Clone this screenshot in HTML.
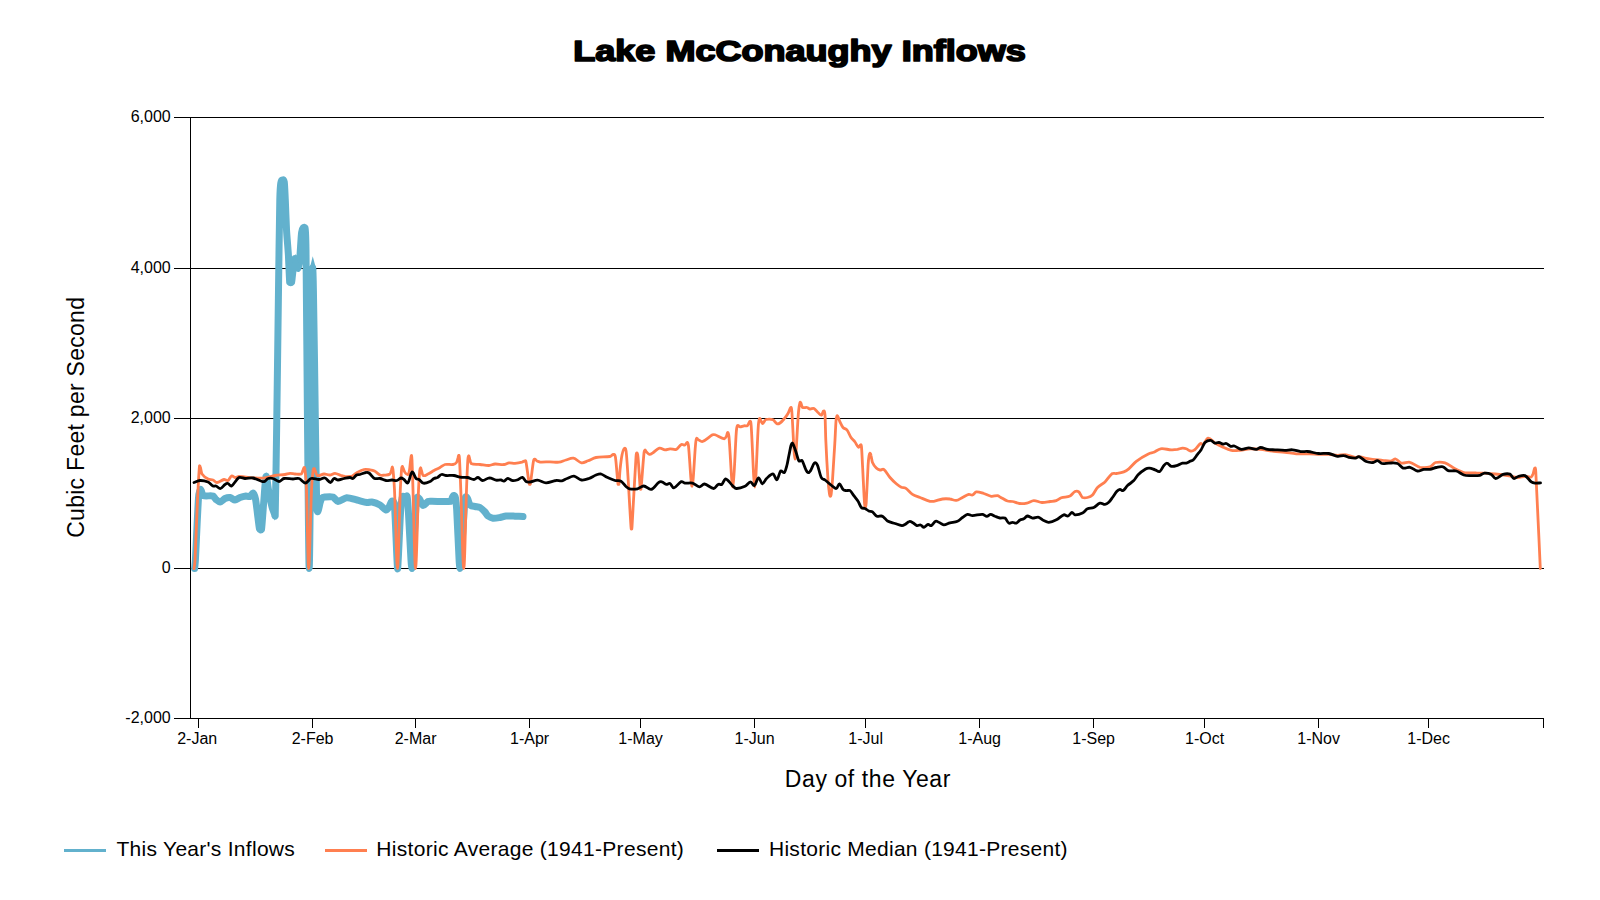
<!DOCTYPE html>
<html><head><meta charset="utf-8"><title>Lake McConaughy Inflows</title>
<style>
html,body{margin:0;padding:0;background:#fff;}
body{width:1600px;height:900px;overflow:hidden;font-family:"Liberation Sans",sans-serif;}
svg{display:block;}
text{font-family:"Liberation Sans",sans-serif;fill:#000;}
.ax{font-size:16px;}
.lg{font-size:21px;}
.at{font-size:23px;}
</style></head><body>
<svg width="1600" height="900" viewBox="0 0 1600 900">
<rect x="0" y="0" width="1600" height="900" fill="#fff"/>
<text id="title" x="799.5" y="60.6" text-anchor="middle" font-size="29.5" font-weight="bold" stroke="#000" stroke-width="1.7" stroke-linejoin="round" textLength="452.5" lengthAdjust="spacingAndGlyphs">Lake McConaughy Inflows</text>
<g shape-rendering="crispEdges" stroke="#000" stroke-width="1">
<line x1="174" y1="117.5" x2="1544" y2="117.5"/>
<line x1="174" y1="268.5" x2="1544" y2="268.5"/>
<line x1="174" y1="418.5" x2="1544" y2="418.5"/>
<line x1="174" y1="568.5" x2="1544" y2="568.5"/>
<line x1="174" y1="718.5" x2="1544" y2="718.5"/>
<line x1="190.5" y1="117" x2="190.5" y2="719"/>
<line x1="198.5" y1="718" x2="198.5" y2="728"/>
<line x1="312.5" y1="718" x2="312.5" y2="728"/>
<line x1="415.5" y1="718" x2="415.5" y2="728"/>
<line x1="529.5" y1="718" x2="529.5" y2="728"/>
<line x1="640.5" y1="718" x2="640.5" y2="728"/>
<line x1="754.5" y1="718" x2="754.5" y2="728"/>
<line x1="865.5" y1="718" x2="865.5" y2="728"/>
<line x1="979.5" y1="718" x2="979.5" y2="728"/>
<line x1="1093.5" y1="718" x2="1093.5" y2="728"/>
<line x1="1204.5" y1="718" x2="1204.5" y2="728"/>
<line x1="1318.5" y1="718" x2="1318.5" y2="728"/>
<line x1="1428.5" y1="718" x2="1428.5" y2="728"/>
<line x1="1543.5" y1="718" x2="1543.5" y2="728"/>
</g>
<text class="ax" x="170.7" y="121.9" text-anchor="end">6,000</text>
<text class="ax" x="170.7" y="272.9" text-anchor="end">4,000</text>
<text class="ax" x="170.7" y="422.9" text-anchor="end">2,000</text>
<text class="ax" x="170.7" y="572.9" text-anchor="end">0</text>
<text class="ax" x="170.7" y="722.9" text-anchor="end">-2,000</text>
<text class="ax" x="197.2" y="743.7" text-anchor="middle">2-Jan</text>
<text class="ax" x="312.6" y="743.7" text-anchor="middle">2-Feb</text>
<text class="ax" x="415.6" y="743.7" text-anchor="middle">2-Mar</text>
<text class="ax" x="529.6" y="743.7" text-anchor="middle">1-Apr</text>
<text class="ax" x="640.6" y="743.7" text-anchor="middle">1-May</text>
<text class="ax" x="754.6" y="743.7" text-anchor="middle">1-Jun</text>
<text class="ax" x="865.6" y="743.7" text-anchor="middle">1-Jul</text>
<text class="ax" x="979.6" y="743.7" text-anchor="middle">1-Aug</text>
<text class="ax" x="1093.6" y="743.7" text-anchor="middle">1-Sep</text>
<text class="ax" x="1204.6" y="743.7" text-anchor="middle">1-Oct</text>
<text class="ax" x="1318.6" y="743.7" text-anchor="middle">1-Nov</text>
<text class="ax" x="1428.6" y="743.7" text-anchor="middle">1-Dec</text>
<text class="at" x="784.8" y="786.7" textLength="165.6" lengthAdjust="spacing">Day of the Year</text>
<text class="at" transform="translate(83.7,537.8) rotate(-90)" textLength="240.8" lengthAdjust="spacing">Cubic Feet per Second</text>
<g fill="none" stroke-linejoin="round" stroke-linecap="round">
<path d="M194.6,568.5 C194.8,566.2 195.2,563.9 195.4,560.0 C196.2,545.1 197.7,509.4 198.5,498.0 C199.0,490.6 200.0,489.8 200.5,489.5 C201.2,489.1 202.3,495.2 203.0,495.5 C205.7,496.7 210.3,495.2 213.0,496.0 C213.8,496.2 215.2,498.8 216.0,499.5 C217.1,500.4 218.9,502.1 220.0,502.0 C221.3,501.9 223.7,499.1 225.0,498.5 C226.3,497.9 228.7,497.3 230.0,497.5 C231.3,497.7 233.7,500.0 235.0,500.0 C236.3,500.0 238.7,498.0 240.0,497.5 C241.6,496.9 244.4,496.2 246.0,496.0 C247.1,495.9 248.9,497.0 250.0,496.5 C250.8,496.2 252.2,492.6 253.0,493.0 C253.7,493.3 254.8,495.7 255.5,499.0 C256.2,502.3 257.3,513.0 258.0,518.0 C258.4,521.0 259.1,527.7 259.5,529.0 C260.0,530.2 261.0,530.2 261.5,529.5 C262.0,526.3 263.0,511.3 263.5,505.0 C264.2,497.1 265.3,478.5 266.0,476.5 C266.7,474.5 267.8,486.6 268.5,490.0 C269.4,494.7 271.1,503.3 272.0,507.0 C272.7,509.7 273.8,512.1 274.5,514.0 C274.7,514.5 275.0,516.9 275.2,516.0 C275.6,499.8 276.3,452.4 276.7,425.0 C277.2,392.1 278.0,324.8 278.5,290.0 C278.8,264.8 279.5,216.1 279.8,200.0 C280.1,187.6 280.5,185.0 280.8,183.0 C281.3,179.6 282.0,180.1 282.5,180.0 C283.0,179.9 283.8,179.1 284.3,182.0 C284.6,183.9 285.0,194.2 285.3,200.0 C285.6,206.9 286.2,223.8 286.5,229.5 C287.0,238.5 287.9,246.6 288.4,255.0 C288.7,260.7 289.4,279.4 289.7,282.3 C290.2,282.9 291.1,282.9 291.6,282.2 C291.9,281.4 292.3,276.1 292.6,274.0 C293.1,269.9 294.0,261.2 294.5,259.0 C294.9,258.3 295.6,258.5 296.0,259.5 C296.6,261.0 297.6,268.6 298.2,268.4 C298.6,268.2 299.4,262.5 299.8,258.0 C300.3,252.9 301.1,235.3 301.6,232.5 C302.5,227.2 304.1,226.5 305.0,227.8 C305.3,228.9 305.7,229.0 306.0,250.0 C306.4,281.6 307.1,385.2 307.5,425.0 C308.0,470.1 308.7,568.5 309.2,568.5 C309.7,568.5 310.5,467.4 311.0,425.0 C311.4,387.4 312.2,292.0 312.6,268.5 C312.8,264.7 313.2,277.3 313.4,290.0 C314.0,319.1 314.9,390.6 315.4,425.0 C315.7,447.9 316.4,493.5 316.7,505.0 C317.0,513.1 317.7,511.7 318.0,511.5 C318.5,511.2 319.5,504.8 320.0,503.0 C320.5,501.2 321.5,498.6 322.0,498.0 C322.8,497.0 324.2,497.1 325.0,497.0 C327.1,496.8 330.9,496.4 333.0,497.0 C334.3,497.5 336.7,501.4 338.0,501.5 C340.3,501.6 344.4,497.9 346.7,497.7 C349.4,497.5 354.3,499.4 357.0,500.0 C359.7,500.6 364.3,502.1 367.0,502.5 C368.3,502.7 370.7,501.7 372.0,502.0 C374.1,502.4 377.9,503.8 380.0,505.0 C381.6,505.9 384.4,509.6 386.0,510.0 C386.8,510.2 388.2,508.2 389.0,507.0 C389.7,506.0 390.8,502.0 391.5,501.5 C392.2,500.9 393.6,500.7 394.3,503.0 C395.2,512.5 396.6,556.0 397.5,568.5 C397.7,570.4 398.0,563.4 398.2,560.0 C398.9,547.8 400.0,519.8 400.7,510.0 C401.2,502.9 402.0,497.8 402.5,496.5 C403.1,495.6 404.2,498.6 404.8,498.5 C405.4,498.4 406.4,495.0 407.0,496.0 C407.3,497.1 408.0,504.5 408.3,510.0 C409.0,521.5 410.3,548.6 411.0,560.0 C411.3,564.2 411.7,568.5 412.0,568.5 C412.3,568.5 412.7,564.2 413.0,560.0 C413.8,547.3 415.2,517.5 416.0,505.0 C416.3,500.8 416.7,498.0 417.0,497.5 C417.7,496.7 418.8,498.1 419.5,499.0 C420.4,500.2 422.1,505.2 423.0,505.5 C424.3,505.9 426.7,502.1 428.0,501.5 C429.1,501.0 430.9,501.3 432.0,501.3 C437.1,501.3 445.9,501.9 451.0,501.3 C451.4,501.2 452.1,497.8 452.5,497.0 C452.9,496.2 453.6,495.4 454.0,495.5 C454.4,495.6 455.1,495.9 455.5,498.0 C455.8,499.7 456.4,504.5 456.7,510.0 C457.3,521.0 458.5,548.7 459.1,560.0 C459.3,564.3 459.8,568.5 460.0,568.5 C460.3,568.5 460.7,563.8 461.0,560.0 C461.9,546.8 463.6,518.1 464.5,505.0 C464.8,501.3 465.2,497.6 465.5,497.0 C466.0,496.2 467.0,497.6 467.5,498.5 C468.2,499.7 469.3,504.3 470.0,505.0 C471.3,506.4 473.7,506.2 475.0,506.5 C476.3,506.8 478.7,506.8 480.0,507.5 C481.3,508.2 483.7,510.6 485.0,512.0 C485.8,512.9 487.2,515.4 488.0,516.0 C489.3,517.0 491.7,518.0 493.0,518.2 C494.9,518.4 498.1,517.8 500.0,517.5 C501.6,517.2 504.4,516.1 506.0,516.0 C508.4,515.8 512.6,516.1 515.0,516.2 C517.1,516.3 520.9,516.4 523.0,516.5" stroke="#62b1cd" stroke-width="7"/>
<path d="M309.3,270 L312.75,256.2 L316.4,270 Z M271.6,509 L274.4,520.8 L277.6,509 Z M292.6,263 L295.8,253.8 L298.6,263 Z M263.6,480 L266.1,472 L268.6,480 Z" fill="#62b1cd" stroke="none"/>
<path d="M194.0,568.5 C194.3,565.7 194.7,566.5 195.0,560.0 C195.8,543.7 196.7,517.4 197.5,500.0 C198.2,486.1 198.8,473.1 199.5,466.0 C199.8,465.1 200.2,466.9 200.5,468.0 C201.0,469.6 201.5,473.3 202.0,474.0 C204.0,476.9 206.0,477.9 208.0,479.0 C209.7,479.9 211.3,479.4 213.0,480.0 C214.3,480.5 215.7,482.6 217.0,482.5 C219.3,482.4 221.7,479.9 224.0,479.5 C225.3,479.3 226.7,481.1 228.0,480.5 C229.2,480.0 230.3,476.5 231.5,476.0 C232.7,475.5 233.8,477.4 235.0,477.5 C236.3,477.6 237.7,476.5 239.0,476.5 C244.3,476.6 249.7,477.7 255.0,478.0 C258.3,478.2 261.7,478.4 265.0,478.0 C268.3,477.6 271.7,476.1 275.0,475.5 C278.3,474.9 281.7,475.0 285.0,474.5 C286.7,474.3 288.3,473.4 290.0,473.3 C291.7,473.2 293.3,473.9 295.0,474.0 C297.2,474.1 299.3,474.6 301.5,474.0 C302.0,473.8 302.5,471.3 303.0,470.0 C303.3,469.1 303.7,467.5 304.0,467.5 C304.3,467.5 304.7,467.0 305.0,470.0 C305.5,474.5 306.0,476.3 306.5,490.0 C307.2,509.2 307.9,568.5 308.6,568.5 C309.6,568.5 310.5,511.4 311.5,490.0 C312.0,478.9 312.5,475.3 313.0,471.0 C313.3,468.1 313.7,468.7 314.0,468.5 C314.3,468.3 314.7,469.2 315.0,470.0 C315.7,471.6 316.3,475.2 317.0,475.5 C319.3,476.3 321.7,474.1 324.0,474.0 C326.0,473.9 328.0,475.1 330.0,475.0 C331.7,474.9 333.3,473.2 335.0,473.3 C337.0,473.4 339.0,474.9 341.0,475.5 C342.3,475.9 343.7,476.4 345.0,476.5 C347.3,476.6 349.7,476.7 352.0,476.0 C353.5,475.5 355.0,473.8 356.5,473.0 C359.0,471.6 361.5,470.1 364.0,469.5 C366.0,469.0 368.0,469.5 370.0,469.8 C371.5,470.0 373.0,470.2 374.5,471.0 C376.3,472.0 378.2,474.2 380.0,475.0 C381.3,475.6 382.7,475.3 384.0,475.2 C386.0,475.0 388.0,475.4 390.0,474.0 C390.5,473.7 391.0,471.6 391.5,470.0 C391.7,469.3 392.0,467.0 392.2,467.0 C392.5,467.0 392.7,467.3 393.0,470.0 C393.5,475.0 394.0,479.1 394.5,490.0 C395.5,511.9 396.5,568.5 397.5,568.5 C398.4,568.5 399.4,513.0 400.3,490.0 C400.7,480.2 401.1,474.9 401.5,470.0 C401.7,467.1 402.0,466.8 402.2,466.5 C402.5,466.1 402.7,467.4 403.0,468.0 C403.7,469.4 404.3,471.6 405.0,472.5 C406.0,473.8 407.0,475.1 408.0,474.5 C408.5,474.2 409.0,472.9 409.5,470.0 C410.1,466.7 410.6,458.3 411.2,456.0 C411.5,454.9 411.7,455.0 412.0,460.0 C412.3,466.3 412.7,479.7 413.0,490.0 C413.8,515.8 414.7,568.5 415.5,568.5 C416.5,568.5 417.5,513.2 418.5,490.0 C418.9,480.7 419.3,475.4 419.7,471.0 C420.0,468.0 420.2,468.0 420.5,467.8 C420.8,467.6 421.0,469.2 421.3,470.0 C421.9,471.7 422.4,475.2 423.0,475.5 C424.7,476.3 426.3,474.8 428.0,474.0 C430.0,473.1 432.0,471.6 434.0,470.5 C436.0,469.4 438.0,468.6 440.0,467.5 C441.7,466.6 443.3,464.9 445.0,464.5 C447.7,463.9 450.3,465.0 453.0,464.5 C454.2,464.3 455.3,464.0 456.5,462.5 C457.0,461.9 457.5,459.6 458.0,458.0 C458.2,457.3 458.5,455.3 458.7,455.5 C459.0,455.7 459.2,454.6 459.5,459.0 C459.9,466.1 460.4,479.0 460.8,490.0 C461.8,515.5 462.8,568.5 463.8,568.5 C464.7,568.5 465.6,514.4 466.5,490.0 C466.9,478.2 467.4,466.7 467.8,460.0 C468.1,455.3 468.4,456.0 468.7,455.8 C469.0,455.6 469.4,457.9 469.7,459.0 C470.1,460.5 470.6,463.3 471.0,463.5 C474.0,465.1 477.0,464.2 480.0,464.5 C483.0,464.8 486.0,465.6 489.0,465.5 C491.0,465.4 493.0,464.1 495.0,464.0 C498.0,463.8 501.0,464.8 504.0,464.5 C505.7,464.4 507.3,463.0 509.0,462.8 C511.0,462.6 513.0,463.4 515.0,463.3 C517.3,463.2 519.7,462.8 522.0,462.2 C523.0,461.9 524.0,460.9 525.0,460.8 C525.3,460.8 525.7,460.2 526.0,462.0 C527.1,467.9 528.2,478.4 529.3,484.0 C529.6,484.6 530.0,484.6 530.3,484.0 C531.4,478.2 532.4,466.9 533.5,461.0 C533.9,458.6 534.4,459.2 534.8,459.2 C535.5,459.2 536.3,460.6 537.0,461.0 C538.0,461.5 539.0,461.9 540.0,462.0 C543.3,462.2 546.7,461.8 550.0,461.8 C553.0,461.8 556.0,462.5 559.0,462.2 C561.3,461.9 563.7,460.6 566.0,460.0 C568.5,459.3 571.0,457.7 573.5,458.2 C576.2,458.7 578.8,462.3 581.5,462.8 C583.7,463.2 585.8,461.6 588.0,460.8 C590.7,459.8 593.3,458.0 596.0,457.5 C600.7,456.6 605.3,457.3 610.0,456.5 C611.2,456.3 612.3,454.3 613.5,454.5 C614.2,454.6 614.8,453.4 615.5,457.5 C616.3,463.0 617.2,477.7 618.0,484.0 C618.3,484.6 618.7,484.6 619.0,484.0 C619.3,481.7 619.7,473.2 620.0,470.0 C620.7,463.6 621.3,458.4 622.0,455.0 C622.8,451.1 623.5,448.3 624.3,448.3 C625.0,448.3 625.8,446.7 626.5,455.0 C628.0,472.6 629.5,504.8 631.0,527.0 C631.2,529.5 631.3,529.0 631.5,529.0 C631.7,529.0 631.8,529.7 632.0,527.0 C633.3,505.7 634.7,476.7 636.0,457.0 C636.3,452.1 636.7,453.0 637.0,453.0 C637.3,453.0 637.7,453.4 638.0,457.0 C638.8,465.4 639.5,480.8 640.3,489.0 C640.5,489.6 640.8,489.6 641.0,489.0 C642.0,479.3 643.0,462.8 644.0,453.0 C644.3,449.8 644.7,450.1 645.0,450.0 C645.5,449.8 646.0,451.5 646.5,452.0 C647.5,453.0 648.4,454.2 649.4,454.4 C650.4,454.6 651.5,453.8 652.5,453.1 C654.8,451.7 657.1,448.7 659.4,448.1 C661.3,447.6 663.1,449.7 665.0,449.8 C666.7,449.9 668.3,448.9 670.0,448.8 C672.1,448.7 674.2,450.1 676.3,449.4 C678.0,448.8 679.6,445.2 681.3,444.4 C682.5,443.8 683.8,445.4 685.0,445.0 C685.8,444.7 686.5,442.1 687.3,442.3 C687.7,442.4 688.1,442.3 688.5,446.0 C689.7,457.0 690.9,486.5 692.1,486.3 C693.2,486.1 694.4,457.3 695.5,445.0 C695.8,441.4 696.2,439.2 696.5,438.5 C697.0,437.8 697.5,439.2 698.0,439.5 C699.5,440.2 701.0,442.0 702.5,441.5 C705.8,440.4 709.2,436.6 712.5,434.8 C713.3,434.4 714.2,434.5 715.0,434.8 C718.1,435.9 721.3,438.5 724.4,438.8 C725.1,438.9 725.8,437.3 726.5,436.0 C726.9,435.2 727.4,432.3 727.8,432.5 C728.2,432.7 728.6,432.7 729.0,437.0 C730.3,450.9 731.6,487.8 732.9,486.9 C734.0,486.1 735.2,447.1 736.3,432.0 C736.7,426.7 737.1,426.2 737.5,425.6 C738.3,424.8 739.2,426.9 740.0,426.9 C741.3,426.9 742.7,426.0 744.0,425.8 C745.2,425.6 746.3,426.4 747.5,425.6 C748.3,425.0 749.2,421.1 750.0,421.2 C750.4,421.2 750.8,420.5 751.2,426.0 C752.4,442.4 753.6,487.0 754.8,487.0 C756.0,487.0 757.1,443.0 758.3,426.0 C758.7,420.2 759.1,419.4 759.5,418.5 C759.9,417.6 760.4,419.8 760.8,420.5 C761.4,421.4 761.9,423.6 762.5,423.5 C763.7,423.3 764.8,419.9 766.0,419.5 C768.3,418.9 770.7,418.9 773.0,419.8 C774.3,420.3 775.7,423.2 777.0,423.8 C778.0,424.3 779.0,423.7 780.0,423.0 C781.3,422.1 782.7,420.6 784.0,419.0 C785.3,417.4 786.7,415.8 788.0,413.5 C788.9,411.9 789.9,408.1 790.8,407.5 C791.1,407.3 791.5,406.9 791.8,411.0 C792.9,424.1 793.9,458.8 795.0,459.0 C796.2,459.2 797.3,425.2 798.5,412.0 C799.0,406.4 799.5,404.2 800.0,402.5 C800.3,401.8 800.7,402.8 801.0,403.5 C801.5,404.5 802.0,407.2 802.5,407.5 C804.0,408.1 805.5,407.2 807.0,407.5 C808.0,407.7 809.0,408.9 810.0,409.0 C811.3,409.2 812.7,407.9 814.0,408.5 C815.3,409.1 816.7,411.3 818.0,412.5 C819.2,413.5 820.3,415.5 821.5,415.2 C822.2,415.0 822.8,411.0 823.5,411.0 C824.0,411.0 824.5,409.8 825.0,415.0 C825.3,418.4 825.5,434.2 825.8,440.0 C826.5,455.9 827.3,469.3 828.0,480.0 C828.5,487.3 829.0,490.5 829.5,494.0 C829.8,495.9 830.0,496.3 830.3,496.3 C830.6,496.3 830.9,496.2 831.2,494.0 C831.6,490.8 832.1,486.2 832.5,480.0 C833.3,468.2 834.2,454.0 835.0,440.0 C835.3,434.4 835.7,425.0 836.0,421.0 C836.3,417.0 836.7,416.5 837.0,415.8 C837.3,415.1 837.7,416.3 838.0,417.0 C838.7,418.4 839.3,420.6 840.0,422.0 C841.0,424.1 842.0,426.4 843.0,427.5 C844.3,429.0 845.7,428.3 847.0,430.0 C848.3,431.7 849.7,435.5 851.0,437.5 C852.3,439.5 853.7,440.3 855.0,442.0 C856.2,443.5 857.3,446.6 858.5,447.2 C859.2,447.5 859.8,444.8 860.5,444.8 C860.8,444.8 861.2,443.9 861.5,447.0 C861.8,450.4 862.2,458.8 862.5,465.0 C863.2,477.4 863.8,492.9 864.5,503.0 C864.8,507.0 865.0,507.5 865.3,507.5 C865.6,507.5 865.9,507.6 866.2,503.0 C866.8,493.4 867.5,475.6 868.1,465.0 C868.4,460.0 868.7,457.9 869.0,456.0 C869.3,453.9 869.7,453.2 870.0,453.1 C870.3,453.0 870.7,454.2 871.0,455.5 C871.5,457.4 872.0,461.3 872.5,462.5 C873.8,465.5 875.0,466.8 876.3,468.1 C877.5,469.3 878.8,469.8 880.0,470.0 C881.3,470.2 882.5,468.7 883.8,469.4 C885.9,470.9 887.9,475.1 890.0,477.5 C892.1,479.9 894.2,482.0 896.3,483.8 C898.0,485.2 899.6,486.5 901.3,487.3 C902.7,488.0 904.2,487.2 905.6,488.1 C907.9,489.6 910.2,492.9 912.5,494.4 C915.0,496.0 917.5,496.5 920.0,497.5 C923.3,498.8 926.7,500.4 930.0,501.3 C931.3,501.6 932.5,501.5 933.8,501.3 C936.7,500.8 939.6,499.4 942.5,499.0 C945.0,498.6 947.5,498.7 950.0,499.0 C952.1,499.2 954.2,500.7 956.3,500.4 C958.4,500.2 960.4,498.5 962.5,497.5 C964.6,496.5 966.7,494.9 968.8,494.4 C970.0,494.1 971.3,495.4 972.5,495.0 C973.8,494.6 975.0,492.1 976.3,491.9 C978.8,491.6 981.3,492.8 983.8,493.5 C986.3,494.2 988.8,495.9 991.3,496.3 C993.4,496.6 995.4,495.5 997.5,495.6 C998.3,495.7 999.2,496.4 1000.0,496.9 C1002.5,498.2 1005.0,500.1 1007.5,501.0 C1009.2,501.6 1010.8,501.1 1012.5,501.5 C1014.8,502.0 1017.1,503.2 1019.4,503.5 C1021.9,503.8 1024.4,503.6 1026.9,503.1 C1029.2,502.6 1031.5,500.7 1033.8,500.6 C1036.5,500.5 1039.2,502.4 1041.9,502.5 C1044.6,502.6 1047.3,501.9 1050.0,501.5 C1052.1,501.2 1054.2,501.3 1056.3,500.6 C1058.0,500.1 1059.6,498.4 1061.3,497.8 C1064.2,496.8 1067.1,497.3 1070.0,496.0 C1071.7,495.2 1073.3,492.3 1075.0,491.5 C1076.3,490.9 1077.5,490.9 1078.8,491.9 C1080.0,492.9 1081.3,496.7 1082.5,497.5 C1084.2,498.1 1085.8,497.9 1087.5,497.5 C1089.2,497.1 1090.8,496.7 1092.5,495.0 C1094.2,493.3 1095.8,489.2 1097.5,487.5 C1100.0,484.9 1102.5,484.3 1105.0,481.9 C1107.3,479.7 1109.6,475.5 1111.9,473.8 C1113.4,472.9 1114.8,473.7 1116.3,473.5 C1118.8,473.1 1121.3,472.8 1123.8,471.9 C1125.5,471.3 1127.1,470.2 1128.8,468.8 C1131.3,466.7 1133.8,463.2 1136.3,461.3 C1140.5,458.2 1144.6,455.9 1148.8,453.8 C1150.5,452.9 1152.1,453.0 1153.8,452.3 C1156.1,451.3 1158.3,449.1 1160.6,448.8 C1164.2,448.3 1167.7,449.7 1171.3,449.8 C1173.4,449.9 1175.4,449.7 1177.5,449.4 C1179.2,449.1 1180.8,448.2 1182.5,448.1 C1183.8,448.0 1185.0,448.3 1186.3,448.8 C1187.7,449.3 1189.2,450.8 1190.6,451.0 C1191.9,451.2 1193.1,451.0 1194.4,450.0 C1196.5,448.5 1198.5,444.8 1200.6,443.5 C1201.4,443.0 1202.3,445.0 1203.1,444.4 C1204.8,443.2 1206.4,438.3 1208.1,438.1 C1210.4,437.8 1212.7,441.7 1215.0,443.1 C1217.5,444.6 1220.0,445.8 1222.5,446.9 C1225.4,448.2 1228.4,449.7 1231.3,450.3 C1234.2,450.9 1237.1,450.5 1240.0,450.3 C1243.3,450.0 1246.7,449.0 1250.0,448.8 C1253.3,448.6 1256.7,449.0 1260.0,449.4 C1264.6,449.9 1269.2,450.8 1273.8,451.3 C1277.5,451.7 1281.3,451.9 1285.0,452.3 C1288.8,452.7 1292.5,453.6 1296.3,453.8 C1300.9,454.1 1305.4,453.7 1310.0,453.8 C1313.3,453.9 1316.7,454.3 1320.0,454.4 C1322.9,454.5 1325.9,454.2 1328.8,454.4 C1331.7,454.5 1334.6,455.2 1337.5,455.3 C1340.4,455.4 1343.4,454.4 1346.3,454.8 C1349.2,455.2 1352.1,457.1 1355.0,457.5 C1356.3,457.7 1357.7,456.5 1359.0,456.6 C1361.0,456.7 1363.0,457.7 1365.0,458.1 C1367.5,458.6 1370.0,459.1 1372.5,459.4 C1375.8,459.8 1379.2,460.0 1382.5,460.3 C1385.4,460.5 1388.4,461.3 1391.3,461.0 C1392.7,460.9 1394.2,458.7 1395.6,459.0 C1397.5,459.4 1399.4,462.7 1401.3,463.1 C1404.2,463.8 1407.1,461.6 1410.0,462.3 C1413.3,463.0 1416.7,466.5 1420.0,467.3 C1423.3,468.0 1426.7,467.9 1430.0,466.9 C1431.9,466.3 1433.7,463.0 1435.6,462.5 C1438.7,461.9 1441.9,461.9 1445.0,462.8 C1448.3,463.9 1451.7,467.1 1455.0,468.8 C1458.3,470.5 1461.7,472.2 1465.0,472.8 C1468.8,473.4 1472.5,472.7 1476.3,472.8 C1479.2,472.8 1482.1,472.9 1485.0,473.1 C1488.3,473.3 1491.7,473.6 1495.0,474.0 C1499.2,474.5 1503.3,475.0 1507.5,475.6 C1510.8,476.1 1514.2,477.4 1517.5,477.5 C1520.0,477.6 1522.5,476.4 1525.0,476.3 C1527.1,476.2 1529.2,477.5 1531.3,476.9 C1531.9,476.7 1532.4,475.4 1533.0,474.0 C1533.6,472.5 1534.2,468.4 1534.8,468.0 C1535.1,467.8 1535.5,466.8 1535.8,472.0 C1537.3,499.4 1538.8,536.3 1540.3,568.5" stroke="#ff7f50" stroke-width="2.8"/>
<path d="M194.0,482.5 C196.0,481.8 198.0,480.6 200.0,480.5 C202.7,480.4 205.3,480.9 208.0,482.0 C209.7,482.7 211.3,485.2 213.0,486.0 C214.0,486.5 215.0,485.7 216.0,486.0 C217.5,486.5 219.0,488.8 220.5,488.5 C222.0,488.2 223.5,485.5 225.0,484.5 C226.0,483.8 227.0,483.3 228.0,483.5 C229.2,483.8 230.3,486.6 231.5,486.0 C234.0,484.6 236.5,478.9 239.0,477.5 C241.0,476.8 243.0,478.4 245.0,478.5 C247.7,478.6 250.3,477.5 253.0,478.0 C256.0,478.5 259.0,480.7 262.0,481.5 C263.0,481.8 264.0,481.7 265.0,481.2 C266.0,480.7 267.0,478.8 268.0,478.5 C269.7,477.9 271.3,478.0 273.0,478.5 C275.0,479.0 277.0,481.5 279.0,481.5 C280.7,481.5 282.3,478.8 284.0,478.5 C287.0,478.0 290.0,479.0 293.0,479.0 C295.0,479.0 297.0,477.9 299.0,478.5 C301.2,479.2 303.3,483.0 305.5,483.0 C307.3,483.0 309.2,479.0 311.0,478.5 C313.7,477.8 316.3,479.6 319.0,479.5 C321.0,479.4 323.0,477.5 325.0,478.0 C326.8,478.5 328.7,482.4 330.5,482.5 C331.7,482.6 332.8,478.9 334.0,478.5 C335.3,478.1 336.7,480.0 338.0,480.0 C340.0,480.0 342.0,478.9 344.0,478.5 C346.0,478.1 348.0,477.5 350.0,477.5 C351.0,477.5 352.0,478.9 353.0,478.5 C354.2,478.1 355.3,475.7 356.5,475.0 C357.7,474.3 358.8,474.8 360.0,474.5 C362.0,474.0 364.0,472.8 366.0,472.5 C367.0,472.3 368.0,472.3 369.0,473.0 C370.8,474.3 372.7,477.6 374.5,478.5 C376.3,479.1 378.2,478.2 380.0,478.5 C382.0,478.8 384.0,480.2 386.0,480.5 C388.0,480.8 390.0,480.0 392.0,480.0 C393.7,480.0 395.3,480.9 397.0,480.5 C398.3,480.2 399.7,478.2 401.0,478.0 C402.0,477.9 403.0,478.8 404.0,479.5 C405.3,480.4 406.7,483.9 408.0,482.8 C409.3,481.6 410.7,472.7 412.0,472.0 C413.3,471.3 414.7,477.1 416.0,478.5 C417.0,479.6 418.0,478.9 419.0,479.5 C420.5,480.4 422.0,482.9 423.5,483.2 C425.7,483.6 427.8,482.5 430.0,481.5 C431.3,480.9 432.7,479.2 434.0,478.5 C435.2,477.9 436.3,478.1 437.5,477.5 C438.8,476.8 440.2,474.8 441.5,474.5 C443.0,474.1 444.5,475.4 446.0,475.5 C448.7,475.7 451.3,475.2 454.0,475.5 C456.0,475.7 458.0,476.9 460.0,477.2 C462.5,477.6 465.0,477.1 467.5,477.5 C469.7,477.9 471.8,479.5 474.0,479.5 C475.3,479.5 476.7,477.3 478.0,477.5 C479.5,477.7 481.0,480.5 482.5,480.5 C484.8,480.6 487.2,477.9 489.5,477.8 C491.7,477.8 493.8,479.8 496.0,480.2 C497.7,480.5 499.3,479.8 501.0,480.0 C502.0,480.1 503.0,481.4 504.0,481.2 C505.3,480.9 506.5,478.4 507.8,478.3 C509.2,478.2 510.6,480.2 512.0,480.5 C513.7,480.8 515.3,480.5 517.0,480.0 C518.8,479.5 520.7,477.2 522.5,477.5 C523.7,477.7 524.8,480.8 526.0,481.5 C527.3,482.3 528.7,482.2 530.0,482.0 C532.5,481.7 535.0,480.1 537.5,480.2 C540.3,480.3 543.2,482.8 546.0,482.8 C549.3,482.9 552.7,480.9 556.0,480.5 C558.0,480.2 560.0,481.2 562.0,480.8 C563.7,480.5 565.3,479.1 567.0,478.5 C569.3,477.6 571.7,476.0 574.0,476.2 C576.5,476.5 579.0,479.6 581.5,480.0 C584.0,480.4 586.5,479.4 589.0,478.5 C591.3,477.7 593.7,475.9 596.0,475.0 C597.7,474.4 599.3,473.7 601.0,474.0 C603.0,474.4 605.0,476.3 607.0,477.2 C609.7,478.4 612.3,479.7 615.0,480.5 C617.0,481.1 619.0,480.1 621.0,481.2 C622.7,482.1 624.3,485.0 626.0,486.5 C627.2,487.5 628.3,488.6 629.5,488.8 C632.2,489.3 634.8,489.3 637.5,488.8 C639.6,488.4 641.7,485.9 643.8,486.0 C646.3,486.1 648.8,490.0 651.3,489.4 C653.8,488.8 656.3,484.1 658.8,482.3 C659.8,481.6 660.9,481.6 661.9,481.9 C663.4,482.3 664.8,484.1 666.3,484.4 C667.5,484.6 668.8,482.9 670.0,483.5 C671.3,484.1 672.5,488.1 673.8,487.9 C676.3,487.5 678.8,482.7 681.3,481.6 C682.5,481.1 683.8,482.9 685.0,483.1 C687.5,483.4 690.0,482.5 692.5,483.1 C694.8,483.7 697.1,486.7 699.4,486.9 C701.1,487.0 702.7,483.8 704.4,484.0 C707.5,484.3 710.7,488.4 713.8,488.5 C715.2,488.5 716.7,485.1 718.1,484.4 C719.4,483.8 720.6,485.0 721.9,484.4 C723.1,483.5 724.4,478.7 725.6,478.8 C727.9,479.1 730.2,483.5 732.5,485.6 C733.8,486.7 735.0,488.4 736.3,488.5 C739.2,488.7 742.1,487.6 745.0,486.3 C746.9,485.4 748.7,482.0 750.6,481.9 C751.9,481.8 753.1,486.3 754.4,485.6 C755.8,484.9 757.1,478.1 758.5,477.8 C759.8,477.5 761.0,483.6 762.3,483.8 C763.6,484.0 765.0,480.0 766.3,478.8 C768.6,476.7 770.8,473.6 773.1,473.8 C774.4,473.9 775.6,480.3 776.9,479.8 C778.1,479.3 779.4,472.2 780.6,471.0 C781.9,470.2 783.1,473.3 784.4,472.5 C785.3,471.7 786.1,468.3 787.0,465.0 C787.7,462.5 788.3,458.2 789.0,455.0 C789.7,451.8 790.3,448.0 791.0,445.5 C791.4,444.0 791.8,443.1 792.2,443.0 C792.6,442.9 793.1,444.0 793.5,445.0 C794.3,447.0 795.2,449.6 796.0,452.0 C797.0,454.9 798.0,459.6 799.0,461.0 C800.0,461.7 801.0,459.8 802.0,460.5 C803.3,462.2 804.7,467.3 806.0,470.0 C806.7,471.4 807.3,472.6 808.0,472.7 C808.9,472.8 809.7,471.9 810.6,470.6 C811.9,468.7 813.1,464.1 814.4,463.0 C815.4,462.2 816.3,462.8 817.3,464.8 C818.6,467.5 819.9,474.7 821.2,477.3 C822.5,479.8 823.7,479.0 825.0,480.0 C828.3,482.6 831.7,485.8 835.0,488.1 C835.6,488.5 836.3,488.7 836.9,488.1 C837.7,487.3 838.6,483.6 839.4,483.8 C840.6,484.1 841.9,488.2 843.1,489.4 C844.2,490.5 845.2,490.4 846.3,490.6 C847.5,490.8 848.8,490.0 850.0,490.6 C851.3,491.4 852.5,493.9 853.8,495.6 C855.2,497.5 856.7,499.0 858.1,501.3 C859.2,503.0 860.2,506.4 861.3,507.5 C862.5,508.8 863.8,507.9 865.0,508.5 C866.3,509.1 867.5,510.4 868.8,511.0 C870.0,511.6 871.3,511.1 872.5,511.9 C874.0,512.9 875.4,515.6 876.9,516.3 C878.4,516.9 879.8,515.8 881.3,516.0 C882.1,516.1 883.0,516.6 883.8,517.3 C885.0,518.3 886.3,520.3 887.5,521.0 C890.0,522.4 892.5,522.7 895.0,523.5 C897.3,524.2 899.6,525.4 901.9,525.6 C902.9,525.7 904.0,525.0 905.0,524.4 C906.5,523.6 907.9,521.9 909.4,521.5 C910.4,521.2 911.5,521.9 912.5,522.5 C914.0,523.3 915.4,525.1 916.9,525.6 C918.1,526.0 919.4,524.7 920.6,525.0 C921.7,525.3 922.9,527.4 924.0,527.3 C925.4,527.2 926.7,524.7 928.1,524.4 C929.2,524.2 930.2,526.0 931.3,525.6 C932.7,525.0 934.2,521.9 935.6,521.3 C936.7,520.8 937.7,521.8 938.8,522.3 C940.5,523.0 942.1,524.7 943.8,524.8 C945.9,524.9 947.9,523.3 950.0,522.8 C952.5,522.2 955.0,522.4 957.5,521.3 C959.2,520.6 960.8,518.6 962.5,517.5 C964.2,516.4 965.8,514.7 967.5,514.4 C969.2,514.1 970.8,515.6 972.5,515.6 C975.8,515.6 979.2,514.2 982.5,514.4 C984.0,514.5 985.4,516.3 986.9,516.3 C988.1,516.3 989.4,514.4 990.6,514.4 C992.1,514.4 993.5,515.7 995.0,516.3 C996.7,516.9 998.3,517.7 1000.0,518.0 C1001.7,518.3 1003.3,517.4 1005.0,518.1 C1006.3,518.8 1007.5,522.4 1008.8,523.1 C1010.0,523.8 1011.3,522.3 1012.5,522.3 C1013.8,522.3 1015.0,523.5 1016.3,523.1 C1017.5,522.7 1018.8,520.7 1020.0,520.0 C1021.3,519.3 1022.5,519.5 1023.8,518.8 C1025.0,518.2 1026.1,516.1 1027.3,516.0 C1029.0,515.9 1030.8,517.9 1032.5,518.1 C1034.6,518.3 1036.7,516.8 1038.8,517.3 C1040.5,517.7 1042.1,519.8 1043.8,520.6 C1045.5,521.4 1047.1,522.5 1048.8,522.3 C1051.5,522.1 1054.2,520.8 1056.9,519.4 C1059.2,518.2 1061.5,515.5 1063.8,514.8 C1065.2,514.4 1066.7,516.4 1068.1,516.0 C1069.4,515.6 1070.6,512.7 1071.9,512.5 C1072.9,512.3 1074.0,514.7 1075.0,514.8 C1077.5,514.9 1080.0,514.3 1082.5,513.1 C1084.2,512.3 1085.8,509.6 1087.5,508.8 C1089.6,507.8 1091.7,508.5 1093.8,507.5 C1095.9,506.6 1097.9,503.7 1100.0,503.1 C1101.7,502.6 1103.3,504.6 1105.0,504.4 C1106.3,504.3 1107.5,503.5 1108.8,502.3 C1110.0,501.2 1111.3,499.2 1112.5,497.5 C1114.0,495.5 1115.4,492.9 1116.9,491.3 C1117.9,490.2 1119.0,489.5 1120.0,489.4 C1121.0,489.3 1122.1,491.1 1123.1,490.6 C1124.6,489.9 1126.0,487.0 1127.5,485.6 C1129.6,483.6 1131.7,482.7 1133.8,480.6 C1135.2,479.1 1136.7,476.2 1138.1,474.8 C1140.6,472.3 1143.1,470.5 1145.6,469.0 C1146.9,468.2 1148.1,468.0 1149.4,468.1 C1151.3,468.3 1153.1,469.2 1155.0,469.8 C1156.6,470.3 1158.2,472.3 1159.8,471.5 C1161.1,470.9 1162.5,467.2 1163.8,465.6 C1164.8,464.4 1165.9,463.0 1166.9,463.1 C1168.4,463.2 1169.8,466.0 1171.3,466.3 C1173.4,466.7 1175.4,465.9 1177.5,465.3 C1179.2,464.8 1180.8,463.5 1182.5,463.1 C1183.8,462.8 1185.0,463.4 1186.3,463.1 C1187.5,462.8 1188.8,461.9 1190.0,461.3 C1191.0,460.8 1192.1,461.0 1193.1,460.0 C1194.6,458.7 1196.0,456.3 1197.5,454.4 C1198.8,452.8 1200.0,451.4 1201.3,449.4 C1202.5,447.4 1203.8,443.7 1205.0,442.5 C1206.9,440.7 1208.7,440.3 1210.6,440.4 C1212.1,440.5 1213.5,442.8 1215.0,443.1 C1216.3,443.4 1217.5,442.2 1218.8,442.3 C1220.2,442.5 1221.7,443.8 1223.1,444.0 C1224.2,444.2 1225.2,443.2 1226.3,443.5 C1227.7,443.9 1229.2,445.9 1230.6,446.3 C1231.9,446.7 1233.1,445.6 1234.4,446.0 C1236.7,446.7 1239.0,449.1 1241.3,449.4 C1243.8,449.7 1246.3,447.9 1248.8,447.9 C1251.3,447.9 1253.8,449.5 1256.3,449.4 C1257.7,449.4 1259.2,447.5 1260.6,447.5 C1262.9,447.5 1265.2,449.0 1267.5,449.4 C1270.0,449.8 1272.5,449.7 1275.0,449.8 C1278.3,450.0 1281.7,450.3 1285.0,450.3 C1287.5,450.3 1290.0,449.6 1292.5,449.8 C1295.2,450.0 1297.9,451.3 1300.6,451.6 C1302.9,451.9 1305.2,451.3 1307.5,451.5 C1311.3,451.9 1315.0,453.1 1318.8,453.5 C1322.1,453.8 1325.5,453.0 1328.8,453.5 C1331.7,453.9 1334.6,455.9 1337.5,456.3 C1339.6,456.6 1341.7,455.4 1343.8,455.6 C1345.5,455.7 1347.1,456.9 1348.8,457.3 C1351.1,457.8 1353.3,458.3 1355.6,458.1 C1356.7,458.0 1357.9,456.2 1359.0,456.6 C1361.4,457.4 1363.9,460.5 1366.3,461.5 C1368.6,462.4 1370.8,462.7 1373.1,462.5 C1374.6,462.4 1376.0,460.4 1377.5,460.6 C1379.0,460.8 1380.4,463.2 1381.9,463.5 C1384.2,464.0 1386.5,463.1 1388.8,463.1 C1391.7,463.1 1394.6,462.5 1397.5,463.5 C1399.4,464.2 1401.2,467.5 1403.1,468.1 C1405.4,468.8 1407.7,466.8 1410.0,467.3 C1412.5,467.8 1415.0,470.6 1417.5,471.0 C1419.6,471.3 1421.7,469.7 1423.8,469.4 C1425.9,469.1 1427.9,469.7 1430.0,469.4 C1432.1,469.1 1434.2,467.9 1436.3,467.5 C1438.6,467.1 1440.8,466.3 1443.1,466.9 C1444.8,467.3 1446.4,470.1 1448.1,470.6 C1450.8,471.4 1453.6,470.2 1456.3,471.0 C1458.8,471.7 1461.3,474.2 1463.8,475.0 C1465.9,475.7 1467.9,475.6 1470.0,475.6 C1473.3,475.7 1476.7,475.9 1480.0,475.3 C1481.5,475.0 1482.9,473.2 1484.4,473.1 C1486.7,472.9 1489.0,473.3 1491.3,474.4 C1492.7,475.1 1494.2,478.5 1495.6,478.5 C1498.1,478.5 1500.6,475.2 1503.1,474.4 C1505.4,473.7 1507.7,473.5 1510.0,474.1 C1511.3,474.6 1512.5,478.1 1513.8,478.5 C1515.2,478.9 1516.7,476.9 1518.1,476.5 C1520.4,475.9 1522.7,474.9 1525.0,475.6 C1527.1,476.5 1529.2,480.3 1531.3,481.9 C1532.5,482.8 1533.8,483.0 1535.0,483.1 C1536.8,483.3 1538.7,483.0 1540.5,482.9" stroke="#000" stroke-width="2.8"/>
</g>
<g shape-rendering="crispEdges">
<rect x="64" y="849" width="42" height="3" fill="#62b1cd"/>
<rect x="325" y="849" width="42" height="3" fill="#ff7f50"/>
<rect x="717" y="849" width="42" height="3" fill="#000"/>
</g>
<text class="lg" x="116.5" y="856" textLength="178.3" lengthAdjust="spacing">This Year's Inflows</text>
<text class="lg" x="376.3" y="856" textLength="307.5" lengthAdjust="spacing">Historic Average (1941-Present)</text>
<text class="lg" x="769" y="856" textLength="298.5" lengthAdjust="spacing">Historic Median (1941-Present)</text>
</svg>
</body></html>
